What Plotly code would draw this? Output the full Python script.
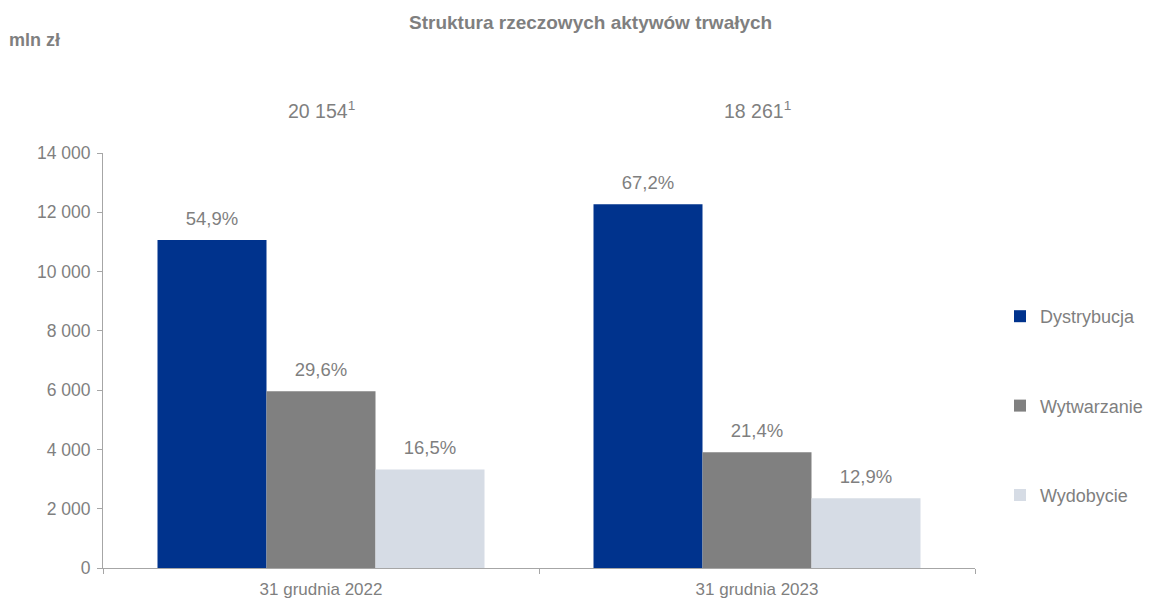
import plotly.graph_objects as go

categories = ["31 grudnia 2022", "31 grudnia 2023"]
series_names = ["Dystrybucja", "Wytwarzanie", "Wydobycie"]
dystrybucja = [11065, 12271]
wytwarzanie = [5966, 3908]
wydobycie = [3325, 2356]
dystrybucja_pct = ["54,9%", "67,2%"]
wytwarzanie_pct = ["29,6%", "21,4%"]
wydobycie_pct = ["16,5%", "12,9%"]
totals = ["20 154<sup>1</sup>", "18 261<sup>1</sup>"]
y_tickvals = [0, 2000, 4000, 6000, 8000, 10000, 12000, 14000]
y_ticktext = ["0", "2 000", "4 000", "6 000", "8 000", "10 000", "12 000", "14 000"]

colors = ["#00338D", "#808080", "#D6DCE5"]
gray = "#7F7F7F"
axis_gray = "#A6A6A6"
font_family = "Arial, Liberation Sans, sans-serif"
label_gap = 270  # extra spacing (in axis units) between bar top and its label

# page body has an 8px margin, so the figure is offset by 8px
OFF = 8
W, H = 1152 - OFF, 601 - OFF
ML, MR, MT, MB = 103 - OFF, 177, 153 - OFF, 33
plot_w = W - ML - MR
plot_h = H - MT - MB

def px_x(px):
    return (px - OFF - ML) / plot_w

def px_y(py):
    return (H - MB - (py - OFF)) / plot_h

fig = go.Figure()
series_vals = [dystrybucja, wytwarzanie, wydobycie]
series_pct = [dystrybucja_pct, wytwarzanie_pct, wydobycie_pct]
for i, (name, vals, pct) in enumerate(zip(series_names, series_vals, series_pct)):
    fig.add_trace(go.Bar(
        x=categories, y=vals, name=name, legendgroup=name, offsetgroup=str(i),
        marker=dict(color=colors[i], line=dict(width=0)),
    ))
for i, (name, vals, pct) in enumerate(zip(series_names, series_vals, series_pct)):
    # transparent carrier bar sitting on top of each bar, holding the value label
    fig.add_trace(go.Bar(
        x=categories, y=[label_gap] * len(vals), base=vals, offsetgroup=str(i),
        name=name, showlegend=False, hoverinfo="skip",
        marker=dict(color="rgba(0,0,0,0)", line=dict(width=0)),
        text=pct, textposition="outside", cliponaxis=False,
        textfont=dict(size=18.5, color=gray, family=font_family),
    ))

for cat, t in zip(categories, totals):
    fig.add_annotation(x=cat, y=px_y(110), xref="x", yref="paper", text=t,
                       xanchor="center", yanchor="middle", showarrow=False,
                       font=dict(size=19.5, color=gray, family=font_family))

fig.add_annotation(x=px_x(590), y=px_y(22), xref="paper", yref="paper",
                   text="<b>Struktura rzeczowych aktywów trwałych</b>", showarrow=False,
                   xanchor="center", yanchor="middle",
                   font=dict(size=19, color=gray, family=font_family))

fig.add_annotation(x=px_x(7), y=px_y(40), xref="paper", yref="paper", text="<b>mln zł</b>",
                   xanchor="left", yanchor="middle", showarrow=False,
                   font=dict(size=18, color=gray, family=font_family))

fig.update_layout(
    width=W, height=H,
    margin=dict(l=ML, r=MR, t=MT, b=MB, autoexpand=False),
    paper_bgcolor="white", plot_bgcolor="white",
    barmode="group", bargap=0.25, bargroupgap=0,
    font=dict(family=font_family, color=gray, size=18),
    showlegend=True,
    legend=dict(x=px_x(1000), y=px_y(298), xanchor="left", yanchor="top",
                font=dict(size=18, color=gray, family=font_family),
                tracegroupgap=63, itemwidth=30, bgcolor="rgba(0,0,0,0)"),
    xaxis=dict(showline=True, linecolor=axis_gray, linewidth=1, ticks="outside",
               tickson="boundaries", ticklen=5, tickcolor=axis_gray,
               ticklabelstandoff=6,
               tickfont=dict(size=17, color=gray, family=font_family), showgrid=False),
    yaxis=dict(range=[0, 14000], tickvals=y_tickvals, ticktext=y_ticktext,
               showline=True, linecolor=axis_gray, linewidth=1, ticks="outside",
               ticklen=5, tickcolor=axis_gray, showgrid=False, zeroline=False,
               ticklabelstandoff=3,
               tickfont=dict(size=17.5, color=gray, family=font_family)),
)

fig.write_html("out.html")
